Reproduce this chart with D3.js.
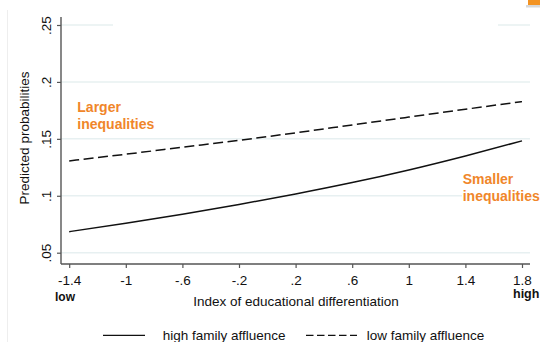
<!DOCTYPE html>
<html>
<head>
<meta charset="utf-8">
<script src="https://cdn.jsdelivr.net/npm/d3@7"></script>
<style>
  html, body { margin: 0; padding: 0; background: #fff; }
  svg { display: block; }
  text { font-family: "Liberation Sans", Arial, sans-serif; }
</style>
</head>
<body>
<svg id="chart" width="540" height="342"></svg>
<script>
// Index of educational differentiation (x positions of the predictions)
const xValues = [-1.4, -1, -0.6, -0.2, 0.2, 0.6, 1, 1.4, 1.8];
// Predicted probabilities by family affluence
const highAffluence = [0.0685, 0.0758, 0.0838, 0.0924, 0.1016, 0.1116, 0.1227, 0.1350, 0.1482];
const lowAffluence  = [0.1306, 0.1365, 0.1426, 0.1487, 0.1553, 0.1622, 0.1691, 0.1760, 0.1827];

const xTicks = [-1.4, -1, -0.6, -0.2, 0.2, 0.6, 1, 1.4, 1.8];
const xTickLabels = ["-1.4", "-1", "-.6", "-.2", ".2", ".6", "1", "1.4", "1.8"];
const yTicks = [0.05, 0.1, 0.15, 0.2, 0.25];
const yTickLabels = [".05", ".1", ".15", ".2", ".25"];

const seriesNames = ["high family affluence", "low family affluence"];
const noteLabels = [["Larger", "inequalities"], ["Smaller", "inequalities"]];

const svg = d3.select("#chart");
const orange = "#F0862A";
const axisColor = "#555";
const fs = 13.5;

const x = d3.scaleLinear().domain([-1.4, 1.8]).range([69.2, 522]);
const y = d3.scaleLinear().domain([0.05, 0.25]).range([252.7, 25]);

const plotLeft = 61, plotRight = 530, plotTop = 17, plotBottom = 264;

// faint page edge on the left
svg.append("line")
  .attr("x1", 7.5).attr("x2", 7.5).attr("y1", 10).attr("y2", 342)
  .attr("stroke", "#eeeeee").attr("stroke-width", 1);

// small orange tab in the top-right corner
svg.append("rect").attr("x", 526).attr("y", 5).attr("width", 14).attr("height", 2.5).attr("fill", "#d8d8d8");
svg.append("rect").attr("x", 528).attr("y", 0).attr("width", 12).attr("height", 5).attr("fill", "#F39322");

// horizontal gridlines
svg.append("g").selectAll("line")
  .data(yTicks)
  .join("line")
  .attr("x1", plotLeft).attr("x2", plotRight)
  .attr("y1", d => y(d)).attr("y2", d => y(d))
  .attr("stroke", "#e7f0f1").attr("stroke-width", 1.5);

// white strip across the top gridline
svg.append("rect").attr("x", 113).attr("y", 20).attr("width", 385).attr("height", 10).attr("fill", "#fff");

// y axis
const yAxis = d3.axisLeft(y)
  .tickValues(yTicks)
  .tickFormat((d, i) => yTickLabels[i])
  .tickSize(4)
  .tickSizeOuter(0);
const gy = svg.append("g").attr("transform", `translate(${plotLeft},0)`).call(yAxis);
gy.select(".domain").remove();
gy.selectAll(".tick line").attr("stroke", axisColor).attr("stroke-width", 1.2);
gy.selectAll(".tick text")
  .attr("x", 0).attr("dy", null)
  .attr("transform", "translate(-10,0) rotate(-90)")
  .attr("text-anchor", "middle")
  .attr("font-size", fs)
  .attr("font-family", "Liberation Sans, Arial, sans-serif")
  .attr("fill", "#111");
svg.append("line")
  .attr("x1", plotLeft).attr("x2", plotLeft).attr("y1", plotTop).attr("y2", plotBottom)
  .attr("stroke", axisColor).attr("stroke-width", 1.4);

// x axis
const xAxis = d3.axisBottom(x)
  .tickValues(xTicks)
  .tickFormat((d, i) => xTickLabels[i])
  .tickSize(4)
  .tickSizeOuter(0);
const gx = svg.append("g").attr("transform", `translate(0,${plotBottom})`).call(xAxis);
gx.select(".domain").remove();
gx.selectAll(".tick line").attr("stroke", axisColor).attr("stroke-width", 1.2);
gx.selectAll(".tick text")
  .attr("y", 20.5).attr("dy", null)
  .attr("font-size", fs)
  .attr("font-family", "Liberation Sans, Arial, sans-serif")
  .attr("fill", "#111");
svg.append("line")
  .attr("x1", plotLeft).attr("x2", plotRight).attr("y1", plotBottom).attr("y2", plotBottom)
  .attr("stroke", axisColor).attr("stroke-width", 1.4);

// axis titles
svg.append("text")
  .attr("transform", "translate(29,138) rotate(-90)")
  .attr("text-anchor", "middle")
  .attr("font-size", fs)
  .attr("fill", "#111")
  .text("Predicted probabilities");
svg.append("text")
  .attr("x", 296).attr("y", 305.7)
  .attr("text-anchor", "middle")
  .attr("font-size", fs)
  .attr("fill", "#111")
  .text("Index of educational differentiation");

// end labels for the index
svg.append("text").attr("x", 55).attr("y", 300.5)
  .attr("font-size", 12).attr("font-weight", "bold").attr("fill", "#111").text("low");
svg.append("text").attr("x", 513).attr("y", 297.7)
  .attr("font-family", "Lato, sans-serif")
  .attr("font-size", 12.5).attr("font-weight", "bold").attr("fill", "#111").text("high");

// prediction lines
const line = d3.line()
  .x((d, i) => x(xValues[i]))
  .y(d => y(d))
  .curve(d3.curveMonotoneX);

svg.append("path")
  .datum(highAffluence)
  .attr("d", line)
  .attr("fill", "none").attr("stroke", "#111").attr("stroke-width", 1.5);
svg.append("path")
  .datum(lowAffluence)
  .attr("d", line)
  .attr("fill", "none").attr("stroke", "#111").attr("stroke-width", 1.5)
  .attr("stroke-dasharray", "10,4.5");

// annotations
function note(lines, x0, y0) {
  const t = svg.append("text")
    .attr("font-family", "Lato, sans-serif")
    .attr("font-weight", "bold")
    .attr("font-size", 14)
    .attr("fill", orange);
  lines.forEach((s, i) => t.append("tspan").attr("x", x0).attr("y", y0 + i * 17.3).text(s));
  return t;
}
note(noteLabels[0], 77.3, 112);
// white backing behind the right annotation
svg.append("rect").attr("x", 462).attr("y", 170).attr("width", 78).attr("height", 34).attr("fill", "#fff");
note(noteLabels[1], 462.7, 183.7);

// legend
const legend = svg.append("g");
legend.append("line")
  .attr("x1", 103).attr("x2", 145).attr("y1", 335.3).attr("y2", 335.3)
  .attr("stroke", "#111").attr("stroke-width", 1.3);
legend.append("text").attr("x", 162.7).attr("y", 339.5)
  .attr("font-size", fs).attr("fill", "#111").text(seriesNames[0]);
legend.append("line")
  .attr("x1", 306).attr("x2", 357).attr("y1", 335.3).attr("y2", 335.3)
  .attr("stroke", "#111").attr("stroke-width", 1.3)
  .attr("stroke-dasharray", "7.5,3.5");
legend.append("text").attr("x", 366.7).attr("y", 339.5)
  .attr("font-size", fs).attr("fill", "#111").text(seriesNames[1]);
</script>
</body>
</html>
